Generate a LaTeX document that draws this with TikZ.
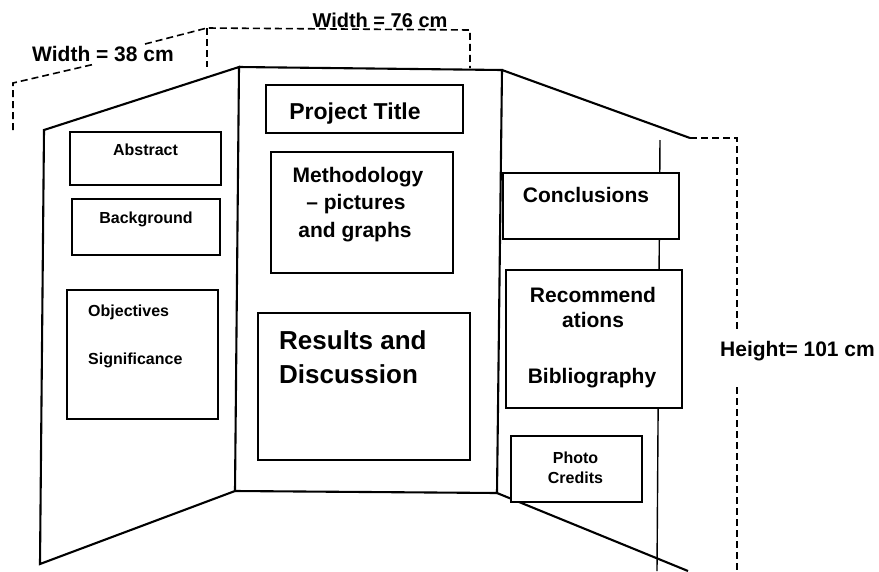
\documentclass[tikz,border=0pt]{standalone}
\usepackage{fontspec}
\setmainfont{Liberation Sans}
\begin{document}
\begin{tikzpicture}[x=1pt,y=-1pt,
  panel/.style={line width=2.1pt, line join=miter},
  box/.style={draw, line width=1.5pt, fill=white, inner sep=0pt},
  dimline/.style={line width=1.6pt, dash pattern=on 7pt off 4pt},
  lbl/.style={font=\bfseries\fontsize{#1}{#1}\selectfont, inner sep=0pt, anchor=base},
]
\useasboundingbox (0,0) rectangle (879,571);
% panel corners
\coordinate (LTL) at (44,130);
\coordinate (LTR) at (239,67);
\coordinate (LBR) at (235,491);
\coordinate (LBL) at (40,564);
\coordinate (MTR) at (502,70);
\coordinate (MBR) at (497,493);
\coordinate (RTR) at (690,138);
\coordinate (RBR) at (688,571);
\coordinate (VT) at (660,140);
\coordinate (VB) at (657,571);
% panels
\draw[panel] (LBL) -- (LTL) -- (LTR) -- (LBR) -- cycle;
\draw[panel] (LTR) -- (MTR) -- (MBR) -- (LBR);
\draw[panel] (MTR) -- (RTR);
\draw[panel] (MBR) -- (RBR);
\draw[line width=1.4pt] (VT) -- (VB);
% dimension lines
\coordinate (D1) at (13,130);
\coordinate (D2) at (13,83);
\coordinate (D3) at (95,64);
\coordinate (D4) at (145,44);
\coordinate (D5) at (207,28);
\coordinate (D6) at (207,67);
\coordinate (D7) at (470,30);
\coordinate (D8) at (470,68);
\coordinate (D9) at (737,138);
\coordinate (D10) at (737,330);
\coordinate (D11) at (737,387);
\coordinate (D12) at (737,571);
\draw[dimline] (D1) -- (D2) -- (D3);
\draw[dimline] (D4) -- (D5) -- (D7) -- (D8);
\draw[dimline] (D5) -- (D6);
\draw[dimline] (RTR) -- (D9) -- (D10);
\draw[dimline] (D11) -- (D12);
% boxes
\node[box, minimum width=151pt, minimum height=53pt] (abs) at (145.5,158.5) {};
\node[box, minimum width=148pt, minimum height=56pt] (bg) at (146,227) {};
\node[box, minimum width=151pt, minimum height=129pt] (obj) at (142.5,354.5) {};
\node[box, minimum width=197pt, minimum height=48pt] (title) at (364.5,109) {};
\node[box, minimum width=182pt, minimum height=121pt] (meth) at (362,212.5) {};
\node[box, minimum width=212pt, minimum height=147pt] (res) at (364,386.5) {};
\node[box, minimum width=176pt, minimum height=66pt] (concl) at (591,206) {};
\node[box, minimum width=176pt, minimum height=138pt] (rec) at (594,339) {};
\node[box, minimum width=131pt, minimum height=66pt] (photo) at (576.5,469) {};
% labels
\node[lbl=21] (w38) at (103,61) {Width = 38 cm};
\node[lbl=20] (w76) at (380,27) {Width = 76 cm};
\node[lbl=21, anchor=base west] (ht) at (720,356) {Height= 101 cm};
\node[lbl=16] (tabs) at (145.5,155) {Abstract};
\node[lbl=16] (tbg) at (146,223) {Background};
\node[lbl=16, anchor=base west] (tobj) at (88,316) {Objectives};
\node[lbl=16, anchor=base west] (tsig) at (88,364) {Significance};
\node[lbl=23] (ttitle) at (355,119) {Project Title};
\node[lbl=21] (tm1) at (358,182) {Methodology};
\node[lbl=21] (tm2) at (356,209) {– pictures};
\node[lbl=21] (tm3) at (355,237) {and graphs};
\node[lbl=26, anchor=base west] (tr1) at (279,349) {Results and};
\node[lbl=26, anchor=base west] (tr2) at (279,383) {Discussion};
\node[lbl=21] (tc) at (586,202) {Conclusions};
\node[lbl=21] (trec1) at (593,302) {Recommend};
\node[lbl=21] (trec2) at (593,327) {ations};
\node[lbl=21] (tbib) at (592,383) {Bibliography};
\node[lbl=16] (tp1) at (575.5,463) {Photo};
\node[lbl=16] (tp2) at (575.5,483) {Credits};
\end{tikzpicture}
\end{document}
